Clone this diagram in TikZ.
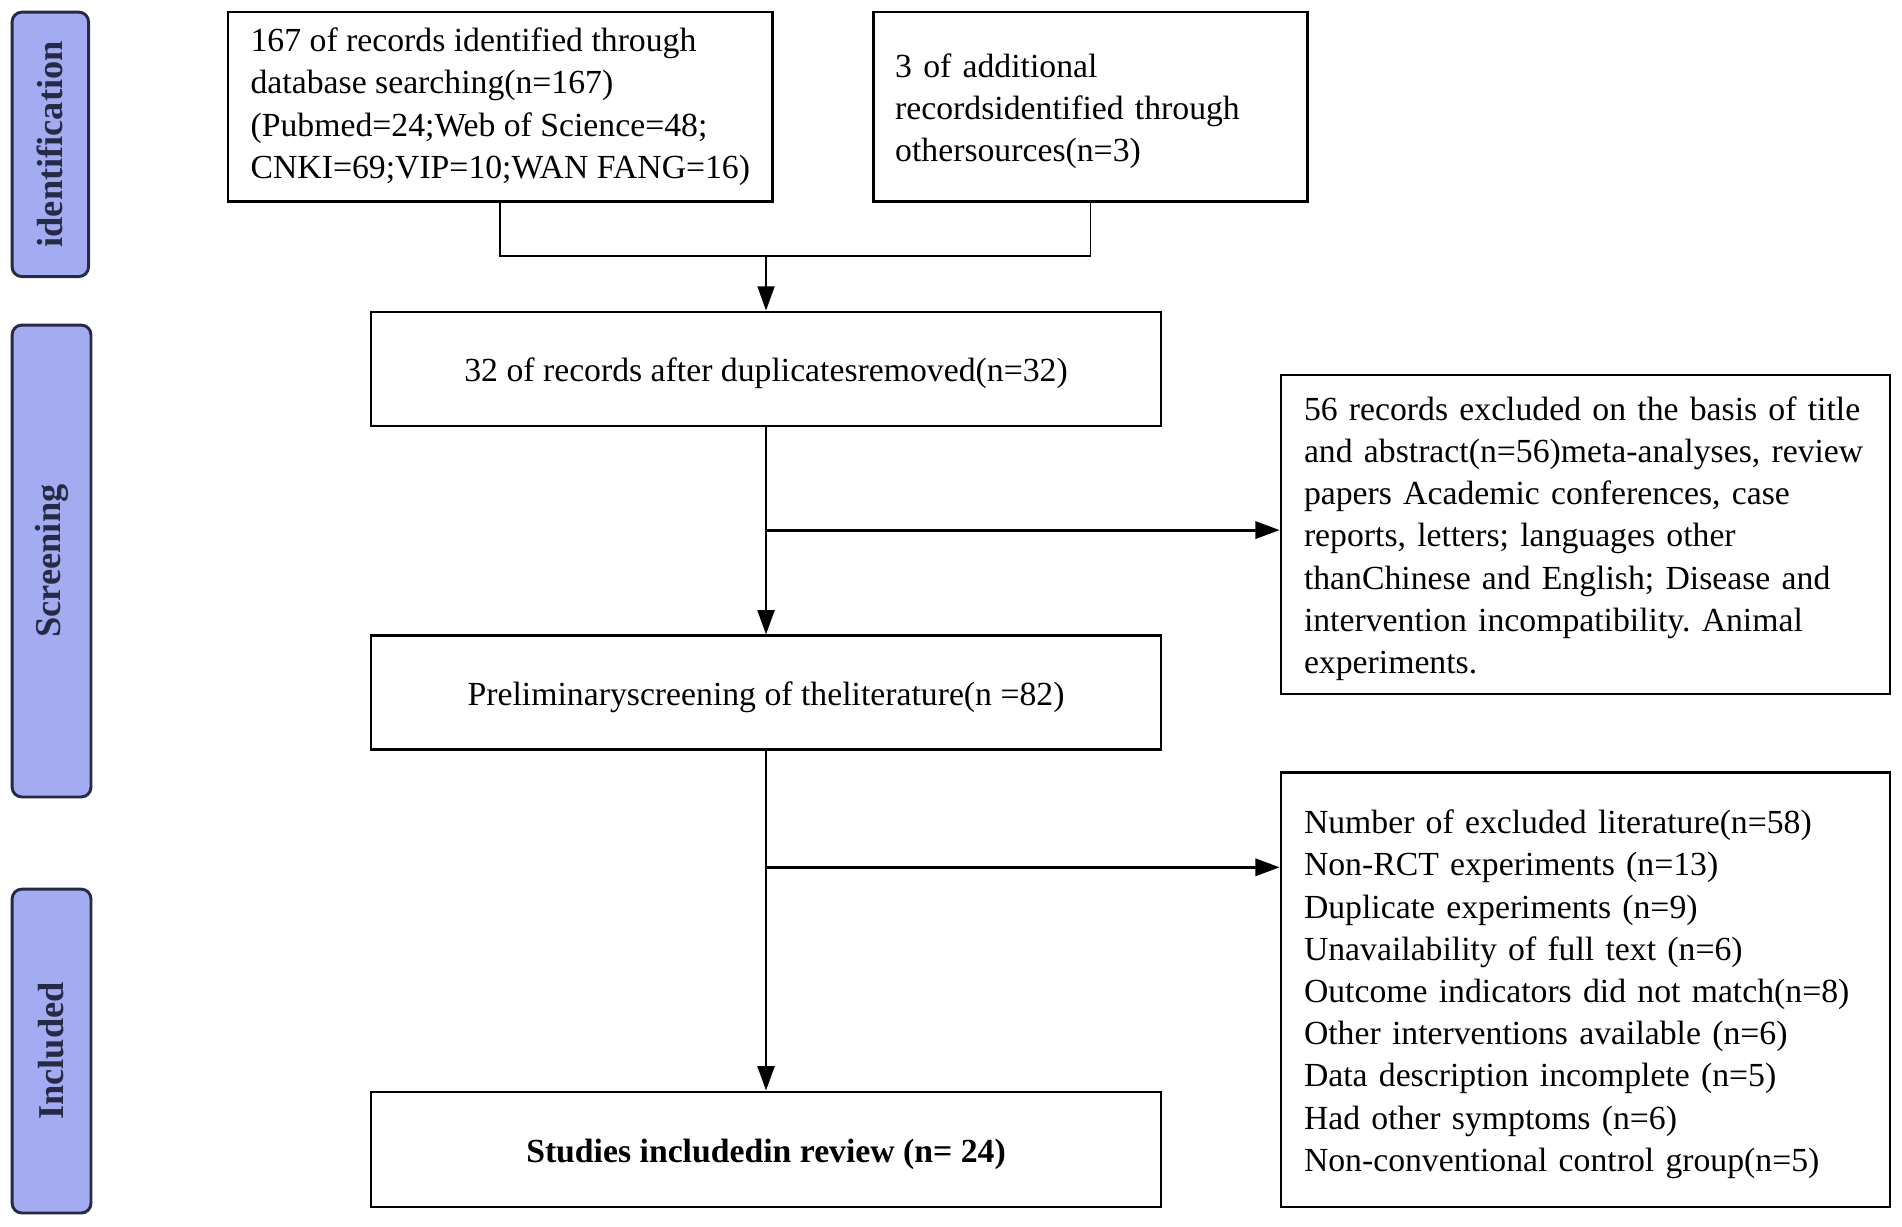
\documentclass[tikz,border=0pt]{standalone}
\usepackage{fontspec}
\setmainfont{Liberation Serif}
\usetikzlibrary{arrows.meta}
\definecolor{barblue}{RGB}{163,172,240}
\definecolor{bardark}{RGB}{38,42,68}
\frenchspacing
\begin{document}
\begin{tikzpicture}[x=0.5pt,y=-0.5pt,
  box/.style={draw, line width=1pt, inner sep=0pt, font=\fontsize{13.9}{17.4}\selectfont, execute at begin node={\rule{0pt}{13.4pt}}},
  phase/.style={draw=bardark, fill=barblue, text=bardark, line width=1.2pt, rounded corners=4pt, inner sep=0pt, rotate=90, font=\fontsize{15}{18}\selectfont\bfseries},
  link/.style={line width=0.8pt, -{Triangle[length=10pt,width=7pt]}}]
\useasboundingbox (0,0) rectangle (1568,1011);

\node[phase, minimum width=109pt, minimum height=31.5pt] (p1) at (41.5,119) {identification};
\node[phase, minimum width=194.5pt, minimum height=32.5pt] (p2) at (42.5,462.5) {Screening};
\node[phase, minimum width=133.5pt, minimum height=32.5pt] (p3) at (42.5,866.5) {Included};

\node[box, minimum width=224.5pt, minimum height=78pt, align=left] (1) at (412.5,88) {167 of records identified through\\database searching(n=167)\\(Pubmed=24;Web of Science=48;\\CNKI=69;VIP=10;WAN FANG=16)};
\node[box, minimum height=78pt, text width=161pt, inner xsep=9pt, align=left] (2) at (899,88) {3 of additional\\recordsidentified through\\othersources(n=3)};
\node[box, minimum width=325.5pt, minimum height=47pt] (3) at (631.5,304) {32 of records after duplicatesremoved(n=32)};
\node[box, minimum width=325.5pt, minimum height=47pt] (4) at (631.5,571) {Preliminaryscreening of theliterature(n =82)};
\node[box, minimum width=325.5pt, minimum height=47.5pt, font=\fontsize{13.9}{17.4}\selectfont\bfseries] (5) at (631.5,947.5) {Studies includedin review (n= 24)};
\node[box, minimum height=131.5pt, text width=232pt, inner xsep=9.5pt, align=left] (6) at (1307,440.5) {56 records excluded on the basis of title\\and abstract(n=56)meta-analyses, review\\papers Academic conferences, case\\reports, letters; languages other\\thanChinese and English; Disease and\\intervention incompatibility. Animal\\experiments.};
\node[box, minimum height=179pt, text width=232pt, inner xsep=9.5pt, align=left] (7) at (1307,816) {Number of excluded literature(n=58)\\Non-RCT experiments (n=13)\\Duplicate experiments (n=9)\\Unavailability of full text (n=6)\\Outcome indicators did not match(n=8)\\Other interventions available (n=6)\\Data description incomplete (n=5)\\Had other symptoms (n=6)\\Non-conventional control group(n=5)};

\coordinate (m) at (631.5,211);
\coordinate (b1) at (631.5,437);
\coordinate (b2) at (631.5,715);

\path[draw,line width=0.8pt] (1.south) |- (m) -| (2.south);
\path[draw,link] (m) -- (3);
\path[draw,link] (3) -- (4);
\path[draw,link] (4) -- (5);
\path[draw,link,line width=1.3pt] (b1) -- (b1 -| 6.west);
\path[draw,link,line width=1.3pt] (b2) -- (b2 -| 7.west);
\end{tikzpicture}
\end{document}
